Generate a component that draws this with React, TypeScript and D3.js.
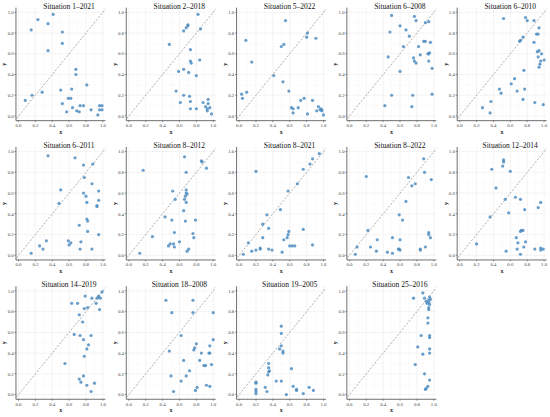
import React from "react";
import * as d3 from "d3";

// each panel: [x, y] pairs
const sit1_2021: [number, number][] = [
  [0.15, 0.83], [0.23, 0.93], [0.41, 0.98], [0.35, 0.89], [0.52, 0.81], [0.52, 0.70], [0.35, 0.63],
  [0.68, 0.45], [0.68, 0.40], [0.81, 0.30], [0.63, 0.26], [0.50, 0.25], [0.28, 0.23], [0.16, 0.20],
  [0.08, 0.15], [0.59, 0.17], [0.62, 0.17], [0.52, 0.12], [0.73, 0.10], [0.77, 0.10], [0.96, 0.10],
  [0.99, 0.10], [0.64, 0.08], [0.57, 0.04], [0.69, 0.05], [0.72, 0.04], [0.86, 0.06], [0.96, 0.06],
  [0.99, 0.06], [0.94, 0.01],
];
const sit2_2018: [number, number][] = [
  [0.82, 0.98], [0.85, 0.84], [0.70, 0.88], [0.70, 0.87], [0.68, 0.85], [0.65, 0.82], [0.48, 0.69],
  [0.73, 0.64], [0.73, 0.53], [0.74, 0.51], [0.84, 0.54], [0.65, 0.45], [0.59, 0.43], [0.71, 0.42],
  [0.80, 0.39], [0.56, 0.24], [0.65, 0.20], [0.72, 0.19], [0.73, 0.14], [0.61, 0.13], [0.73, 0.07],
  [0.80, 0.07], [0.88, 0.13], [0.91, 0.09], [0.94, 0.16], [0.94, 0.12], [0.93, 0.07], [0.96, 0.08],
  [0.93, 0.05], [0.98, 0.02],
];
const sit5_2022: [number, number][] = [
  [0.55, 0.92], [0.08, 0.73], [0.81, 0.80], [0.80, 0.76], [0.91, 0.75], [0.53, 0.69], [0.50, 0.67],
  [0.15, 0.52], [0.41, 0.39], [0.52, 0.33], [0.59, 0.24], [0.09, 0.23], [0.03, 0.21], [0.04, 0.17],
  [0.77, 0.17], [0.73, 0.15], [0.87, 0.15], [0.62, 0.08], [0.64, 0.07], [0.64, 0.03], [0.70, 0.08],
  [0.81, 0.02], [0.94, 0.09], [0.92, 0.05], [0.97, 0.07], [0.98, 0.05], [0.98, 0.06], [1.00, 0.01],
  [0.96, 0.06],
];
const sit6_2008: [number, number][] = [
  [0.50, 0.97], [0.77, 0.96], [0.79, 0.92], [0.90, 0.90], [0.94, 0.91], [0.60, 0.87], [0.48, 0.81],
  [0.67, 0.83], [0.71, 0.77], [0.88, 0.72], [0.90, 0.72], [0.96, 0.71], [0.64, 0.67], [0.82, 0.67],
  [0.84, 0.59], [0.94, 0.60], [0.95, 0.61], [0.93, 0.60], [0.46, 0.57], [0.76, 0.56], [0.77, 0.53],
  [0.94, 0.53], [0.79, 0.51], [0.98, 0.46], [0.60, 0.43], [0.50, 0.20], [0.75, 0.20], [0.98, 0.21],
  [0.42, 0.10], [0.74, 0.09],
];
const sit6_2010: [number, number][] = [
  [0.52, 0.94], [0.78, 0.95], [0.80, 0.92], [0.88, 0.92], [0.94, 0.85], [0.91, 0.79], [0.93, 0.79],
  [0.75, 0.76], [0.71, 0.72], [0.72, 0.73], [0.88, 0.71], [0.94, 0.63], [0.92, 0.62], [0.97, 0.60],
  [0.93, 0.57], [0.96, 0.53], [1.00, 0.54], [0.95, 0.50], [0.94, 0.47], [0.76, 0.44], [0.65, 0.36],
  [0.61, 0.31], [0.47, 0.26], [0.77, 0.26], [0.49, 0.22], [0.68, 0.24], [0.75, 0.16], [0.89, 0.13],
  [0.99, 0.11], [0.27, 0.08], [0.37, 0.14], [0.36, 0.03],
];
const sit6_2011: [number, number][] = [
  [0.35, 0.96], [0.67, 0.94], [0.77, 0.87], [0.88, 0.88], [0.78, 0.75], [0.87, 0.69], [0.50, 0.63],
  [0.95, 0.62], [0.77, 0.60], [0.80, 0.57], [0.48, 0.50], [0.81, 0.51], [0.95, 0.53], [0.93, 0.48],
  [0.93, 0.47], [0.81, 0.35], [0.82, 0.33], [0.72, 0.29], [0.82, 0.23], [0.95, 0.20], [0.33, 0.14],
  [0.59, 0.14], [0.62, 0.12], [0.60, 0.10], [0.74, 0.13], [0.73, 0.06], [0.87, 0.06], [0.25, 0.09],
  [0.29, 0.06], [0.15, 0.02],
];
const sit8_2012: [number, number][] = [
  [0.66, 0.95], [0.86, 0.91], [0.87, 0.90], [0.92, 0.84], [0.17, 0.82], [0.68, 0.80], [0.52, 0.62],
  [0.68, 0.63], [0.68, 0.60], [0.67, 0.57], [0.69, 0.59], [0.66, 0.54], [0.55, 0.54], [0.68, 0.51],
  [0.65, 0.43], [0.43, 0.37], [0.51, 0.34], [0.67, 0.33], [0.79, 0.34], [0.28, 0.18], [0.54, 0.22],
  [0.76, 0.21], [0.77, 0.17], [0.49, 0.11], [0.53, 0.11], [0.47, 0.09], [0.54, 0.08], [0.60, 0.13],
  [0.71, 0.06], [0.69, 0.04], [0.13, 0.02],
];
const sit8_2021: [number, number][] = [
  [0.95, 0.98], [0.87, 0.93], [0.84, 0.88], [0.76, 0.83], [0.20, 0.81], [0.69, 0.69], [0.58, 0.62],
  [0.49, 0.44], [0.33, 0.39], [0.28, 0.30], [0.35, 0.26], [0.76, 0.25], [0.59, 0.23], [0.58, 0.20],
  [0.57, 0.17], [0.28, 0.17], [0.53, 0.15], [0.11, 0.12], [0.60, 0.09], [0.63, 0.09], [0.66, 0.09],
  [0.87, 0.10], [0.25, 0.07], [0.25, 0.06], [0.35, 0.06], [0.39, 0.05], [0.20, 0.05], [0.15, 0.04],
  [0.51, 0.03], [0.05, 0.01],
];
const sit8_2022: [number, number][] = [
  [0.88, 0.93], [0.89, 0.80], [0.20, 0.76], [0.70, 0.75], [0.97, 0.73], [0.74, 0.67], [0.78, 0.69],
  [0.67, 0.52], [0.59, 0.39], [0.63, 0.34], [0.22, 0.24], [0.94, 0.22], [0.94, 0.20], [0.96, 0.17],
  [0.51, 0.17], [0.33, 0.15], [0.60, 0.15], [0.09, 0.08], [0.25, 0.08], [0.58, 0.06], [0.59, 0.06],
  [0.60, 0.05], [0.90, 0.08], [0.84, 0.06], [0.84, 0.05], [0.32, 0.04], [0.45, 0.03], [0.51, 0.02],
  [0.07, 0.01],
];
const sit12_2014: [number, number][] = [
  [0.52, 0.92], [0.52, 0.90], [0.51, 0.86], [0.38, 0.83], [0.60, 0.81], [0.43, 0.65], [0.66, 0.56],
  [0.54, 0.54], [0.72, 0.54], [0.96, 0.51], [0.93, 0.46], [0.77, 0.44], [0.58, 0.41], [0.36, 0.37],
  [0.75, 0.24], [0.73, 0.24], [0.72, 0.23], [0.78, 0.13], [0.67, 0.17], [0.69, 0.12], [0.20, 0.11],
  [0.76, 0.08], [0.68, 0.06], [0.89, 0.06], [0.96, 0.07], [0.99, 0.06], [0.96, 0.05], [0.55, 0.04],
  [0.72, 0.01],
];
const sit14_2019: [number, number][] = [
  [0.99, 0.99], [0.63, 0.88], [0.70, 0.88], [0.79, 0.95], [0.87, 0.93], [0.93, 0.93], [0.95, 0.94],
  [0.97, 0.93], [0.95, 0.95], [0.92, 0.88], [0.82, 0.84], [0.78, 0.83], [0.96, 0.82], [0.72, 0.77],
  [0.76, 0.70], [0.66, 0.58], [0.73, 0.57], [0.86, 0.57], [0.77, 0.53], [0.83, 0.48], [0.81, 0.44],
  [0.78, 0.37], [0.55, 0.30], [0.77, 0.18], [0.72, 0.15], [0.74, 0.12], [0.81, 0.09], [0.90, 0.11],
  [0.86, 0.03],
];
const sit18_2008: [number, number][] = [
  [0.44, 0.91], [0.76, 0.91], [0.51, 0.79], [0.76, 0.79], [1.00, 0.79], [0.62, 0.57], [1.00, 0.53],
  [0.80, 0.49], [0.96, 0.47], [0.78, 0.45], [0.77, 0.43], [0.48, 0.42], [0.86, 0.40], [0.95, 0.40],
  [0.96, 0.40], [0.65, 0.33], [0.84, 0.33], [0.98, 0.29], [0.91, 0.28], [0.89, 0.28], [0.72, 0.23],
  [0.50, 0.18], [0.68, 0.18], [0.62, 0.13], [0.81, 0.07], [0.79, 0.04], [0.92, 0.09], [0.96, 0.08],
  [0.53, 0.03],
];
const sit19_2005: [number, number][] = [
  [0.50, 0.66], [0.50, 0.59], [0.50, 0.47], [0.48, 0.44], [0.52, 0.42], [0.52, 0.40], [0.35, 0.30],
  [0.35, 0.26], [0.36, 0.23], [0.35, 0.22], [0.34, 0.19], [0.62, 0.25], [0.20, 0.12], [0.20, 0.11],
  [0.20, 0.05], [0.20, 0.03], [0.20, 0.01], [0.31, 0.07], [0.33, 0.03], [0.44, 0.13], [0.50, 0.13],
  [0.64, 0.08], [0.68, 0.05], [0.68, 0.04], [0.56, 0.00], [0.76, 0.01], [0.83, 0.07], [0.88, 0.04],
];
const sit25_2016: [number, number][] = [
  [0.76, 0.93], [0.87, 0.98], [0.89, 0.93], [0.91, 0.90], [0.92, 0.88], [0.94, 0.91], [0.95, 0.94],
  [0.95, 0.87], [0.94, 0.84], [0.94, 0.82], [0.93, 0.74], [0.93, 0.69], [0.85, 0.57], [0.95, 0.57],
  [0.95, 0.55], [0.81, 0.46], [0.95, 0.44], [0.87, 0.39], [0.95, 0.40], [0.78, 0.29], [0.89, 0.20],
  [0.95, 0.14], [0.93, 0.08], [0.91, 0.06], [0.90, 0.05], [0.96, 0.92], [0.94, 0.89],
];

const titles = [
  "Situation 1–2021", "Situation 2–2018", "Situation 5–2022", "Situation 6–2008", "Situation 6–2010",
  "Situation 6–2011", "Situation 8–2012", "Situation 8–2021", "Situation 8–2022", "Situation 12–2014",
  "Situation 14–2019", "Situation 18–2008", "Situation 19–2005", "Situation 25–2016",
];
const panelData = [
  sit1_2021, sit2_2018, sit5_2022, sit6_2008, sit6_2010,
  sit6_2011, sit8_2012, sit8_2021, sit8_2022, sit12_2014,
  sit14_2019, sit18_2008, sit19_2005, sit25_2016,
];
const ticks = [0, 0.2, 0.4, 0.6, 0.8, 1.0];
const minorTicks = [0.1, 0.3, 0.5, 0.7, 0.9];

const font = "'Liberation Serif', 'Times New Roman', serif";
const pointColor = "#4f8dc1";

function Panel({ title, data, col, row }: { title: string; data: [number, number][]; col: number; row: number }) {
  const x0 = 18.5 + col * 110.3;
  const y0 = 116 + row * 139.3;
  const x = d3.scaleLinear().domain([-0.03, 1.03]).range([x0 - 0.03 * 84.4, x0 + 1.03 * 84.4]);
  const y = d3.scaleLinear().domain([-0.045, 1.045]).range([y0 + 0.045 * 103.7, y0 - 1.045 * 103.7]);
  const [xl, xr] = x.range();
  const [yb, yt] = y.range();
  const clipId = `clip-${col}-${row}`;
  const diag = d3.line<number>().x((d) => x(d)).y((d) => y(d));
  return (
    <g>
      <defs>
        <clipPath id={clipId}>
          <rect x={xl} y={yt} width={xr - xl} height={yb - yt} />
        </clipPath>
      </defs>
      {minorTicks.map((t) => (
        <g key={"m" + t} stroke="#f6f6f6" strokeWidth={0.5}>
          <line x1={x(t)} x2={x(t)} y1={yt} y2={yb} />
          <line x1={xl} x2={xr} y1={y(t)} y2={y(t)} />
        </g>
      ))}
      {ticks.map((t) => (
        <g key={"g" + t} stroke="#ededed" strokeWidth={0.6}>
          <line x1={x(t)} x2={x(t)} y1={yt} y2={yb} />
          <line x1={xl} x2={xr} y1={y(t)} y2={y(t)} />
        </g>
      ))}
      <path
        d={diag([-0.05, 1.05]) || ""}
        clipPath={`url(#${clipId})`}
        stroke="#8a8a8a"
        strokeWidth={0.7}
        strokeDasharray="2,1.6"
        fill="none"
      />
      {data.map((d, i) => (
        <circle key={i} cx={x(d[0])} cy={y(d[1])} r={1.6} fill={pointColor} fillOpacity={0.85} />
      ))}
      <line x1={xl} x2={xl} y1={yt} y2={yb} stroke="#333" strokeWidth={0.7} />
      <line x1={xl} x2={xr} y1={yb} y2={yb} stroke="#333" strokeWidth={0.7} />
      {ticks.map((t) => (
        <g key={"t" + t}>
          <line x1={x(t)} x2={x(t)} y1={yb} y2={yb + 1.5} stroke="#333" strokeWidth={0.5} />
          <text x={x(t)} y={yb + 6.5} fontSize={4.8} fill="#444" textAnchor="middle" fontFamily={font}>
            {t.toFixed(1)}
          </text>
          <line x1={xl - 1.5} x2={xl} y1={y(t)} y2={y(t)} stroke="#333" strokeWidth={0.5} />
          <text x={xl - 2.3} y={y(t) + 1.7} fontSize={4.8} fill="#444" textAnchor="end" fontFamily={font}>
            {t.toFixed(1)}
          </text>
        </g>
      ))}
      <text x={(xl + xr) / 2} y={yb + 13} fontSize={6} fontWeight="bold" textAnchor="middle" fontFamily={font} fill="#222">
        x
      </text>
      <text
        transform={`translate(${xl - 9.5},${(yt + yb) / 2}) rotate(-90)`}
        fontSize={6}
        fontWeight="bold"
        textAnchor="middle"
        fontFamily={font}
        fill="#222"
      >
        y
      </text>
      <text x={x0 + 50.5} y={y(1) - 3.5} fontSize={7.5} textAnchor="middle" fontFamily={font} fill="#111">
        {title}
      </text>
    </g>
  );
}

export default function App() {
  return (
    <svg width={550} height={417} style={{ position: "absolute", left: 0, top: 0, background: "#fff" }}>
      <rect width={550} height={417} fill="#fff" />
      {panelData.map((data, i) => (
        <Panel key={titles[i]} title={titles[i]} data={data} col={i % 5} row={Math.floor(i / 5)} />
      ))}
    </svg>
  );
}
